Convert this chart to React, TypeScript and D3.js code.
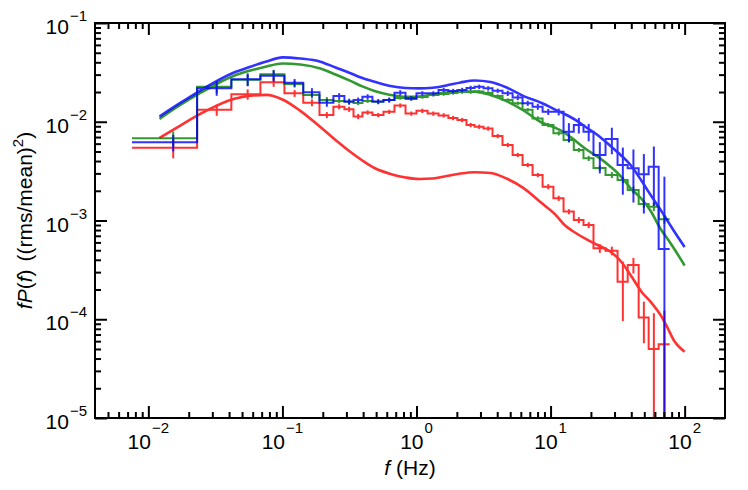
import { useEffect, useRef } from 'react';
import * as d3 from 'd3';

const W = 748;
const H = 490;

// Rebinned spectra share one set of bin edges (Hz)
const binEdges = [0.00755, 0.0231, 0.0416, 0.0685, 0.1035, 0.143, 0.189, 0.240, 0.290, 0.339, 0.395, 0.469, 0.567, 0.685, 0.828, 1.00, 1.21, 1.46, 1.73, 2.02, 2.36, 2.71, 3.16, 3.69, 4.38, 5.21, 6.18, 7.34, 8.72, 10.5, 12.5, 14.9, 17.6, 20.9, 25.7, 31.6, 37.6, 45.4, 53.9, 64.0, 77.3];

const blueHist = [0.00619, 0.0218, 0.0269, 0.0293, 0.0249, 0.0199, 0.0156, 0.0182, 0.0160, 0.0166, 0.0179, 0.0160, 0.0166, 0.0197, 0.0173, 0.0194, 0.0194, 0.0210, 0.0205, 0.0210, 0.0220, 0.0226, 0.0218, 0.0206, 0.0194, 0.0176, 0.0154, 0.0142, 0.0126, 0.0126, 0.00793, 0.00927, 0.00793, 0.00461, 0.00669, 0.00365, 0.00338, 0.00294, 0.00351, 0.000515];
// relative 1-sigma errors
const blueErr = [0.19, 0.16, 0.15, 0.13, 0.09, 0.1, 0.09, 0.07, 0.07, 0.06, 0.06, 0.06, 0.06, 0.06, 0.05, 0.05, 0.05, 0.05, 0.05, 0.05, 0.05, 0.05, 0.05, 0.05, 0.06, 0.06, 0.06, 0.07, 0.07, 0.08, 0.22, 0.18, 0.2, 0.35, 0.3, 0.5, 0.55, 0.6, 0.6, 4.4];

const greenHist = [0.00680, 0.0226, 0.0266, 0.0302, 0.0241, 0.0187, 0.0166, 0.0162, 0.0159, 0.0155, 0.0162, 0.0159, 0.0166, 0.0174, 0.0170, 0.0178, 0.0187, 0.0191, 0.0196, 0.0200, 0.0200, 0.0202, 0.0196, 0.0182, 0.0166, 0.0154, 0.0132, 0.0108, 0.00927, 0.00764, 0.00653, 0.00517, 0.00426, 0.00340, 0.00289, 0.00257, 0.00204, 0.00147, 0.00138, 0.00103];
const greenErr = [0.17, 0.14, 0.13, 0.11, 0.08, 0.08, 0.07, 0.05, 0.05, 0.05, 0.04, 0.04, 0.04, 0.04, 0.04, 0.04, 0.04, 0.04, 0.04, 0.04, 0.04, 0.04, 0.04, 0.04, 0.04, 0.04, 0.04, 0.05, 0.05, 0.05, 0.05, 0.05, 0.06, 0.06, 0.07, 0.07, 0.08, 0.09, 0.1, 0.1];

const redHist = [0.00546, 0.0132, 0.0190, 0.0251, 0.0194, 0.0156, 0.0117, 0.0142, 0.0134, 0.0113, 0.0124, 0.0117, 0.0126, 0.0146, 0.0121, 0.0129, 0.0121, 0.0116, 0.0109, 0.0104, 0.00927, 0.00891, 0.00854, 0.00717, 0.00582, 0.00461, 0.00365, 0.00289, 0.00220, 0.00168, 0.00123, 0.00101, 0.000900, 0.000523, 0.000494, 0.000240, 0.000354, 0.000104, 0.0000500, 0.0000557];
const redErr = [0.22, 0.13, 0.12, 0.1, 0.08, 0.08, 0.07, 0.06, 0.06, 0.06, 0.05, 0.05, 0.05, 0.05, 0.05, 0.05, 0.05, 0.05, 0.05, 0.05, 0.05, 0.05, 0.05, 0.05, 0.05, 0.05, 0.05, 0.05, 0.06, 0.06, 0.06, 0.07, 0.07, 0.1, 0.1, 0.6, 0.18, 0.45, 1.3, 1.2];

// Model curves, read at these frequencies (Hz)
const modelFreq = [0.0121, 0.0173, 0.0244, 0.0431, 0.0577, 0.0760, 0.100, 0.136, 0.192, 0.249, 0.322, 0.395, 0.486, 0.640, 0.828, 1.04, 1.32, 1.67, 2.13, 2.71, 3.57, 4.78, 6.29, 8.57, 10.9, 12.5, 15.4, 18.3, 22.4, 28.0, 33.3, 39.5, 47.8, 55.8, 66.2, 74.7, 82.8, 100];
const blueModel = [0.0113, 0.0155, 0.0207, 0.0314, 0.0361, 0.0407, 0.0449, 0.0437, 0.0406, 0.0354, 0.0310, 0.0277, 0.0254, 0.0230, 0.0220, 0.0218, 0.0221, 0.0233, 0.0250, 0.0262, 0.0253, 0.0220, 0.0182, 0.0155, 0.0132, 0.0121, 0.0104, 0.00885, 0.00734, 0.00568, 0.00461, 0.00365, 0.00251, 0.00181, 0.00128, 0.000988, 0.000792, 0.000539];
const greenModel = [0.0107, 0.0148, 0.0196, 0.0291, 0.0330, 0.0363, 0.0389, 0.0380, 0.0346, 0.0301, 0.0259, 0.0228, 0.0205, 0.0187, 0.0179, 0.0180, 0.0189, 0.0198, 0.0202, 0.0202, 0.0187, 0.0160, 0.0130, 0.00983, 0.00865, 0.00787, 0.00638, 0.00530, 0.00443, 0.00351, 0.00282, 0.00212, 0.00165, 0.00125, 0.000820, 0.000650, 0.000527, 0.000350];
const redModel = [0.00685, 0.00916, 0.0120, 0.0170, 0.0184, 0.0187, 0.0168, 0.0129, 0.00885, 0.00653, 0.00494, 0.00405, 0.00340, 0.00296, 0.00273, 0.00263, 0.00266, 0.00282, 0.00299, 0.00308, 0.00303, 0.00263, 0.00213, 0.00150, 0.00114, 0.000922, 0.000747, 0.000650, 0.000565, 0.000483, 0.000389, 0.000281, 0.000189, 0.000150, 0.000110, 0.0000815, 0.0000617, 0.0000469];

const xTickExps = [-2, -1, 0, 1, 2];
const yTickExps = [-5, -4, -3, -2, -1];

const FONT = '"Liberation Sans", Arial, sans-serif';

export default function App() {
  const svgRef = useRef<SVGSVGElement>(null);

  useEffect(() => {
    if (!svgRef.current) return;
    const svg = d3.select(svgRef.current);
    svg.selectAll('*').remove();

    const left = 95, right = 725, top = 23, bottom = 418;
    const x = d3.scaleLog().domain([4e-3, 2e2]).range([left, right]);
    const y = d3.scaleLog().domain([1e-5, 1e-1]).range([bottom, top]);

    svg.append('rect').attr('width', W).attr('height', H).attr('fill', '#fff');

    svg.append('defs').append('clipPath').attr('id', 'plot-clip')
      .append('rect')
      .attr('x', left).attr('y', top)
      .attr('width', right - left).attr('height', bottom - top);

    const plot = svg.append('g').attr('clip-path', 'url(#plot-clip)');

    const series = [
      { color: '#ff0000', hist: redHist, err: redErr, model: redModel },
      { color: '#008000', hist: greenHist, err: greenErr, model: greenModel },
      { color: '#0000ff', hist: blueHist, err: blueErr, model: blueModel },
    ];

    const modelLine = d3.line<[number, number]>()
      .x(d => x(d[0]))
      .y(d => y(d[1]))
      .curve(d3.curveMonotoneX);

    const stepLine = d3.line<[number, number]>()
      .x(d => x(d[0]))
      .y(d => y(d[1]))
      .curve(d3.curveStepAfter);

    series.forEach(s => {
      const g = plot.append('g').attr('opacity', 0.8);

      g.append('path')
        .datum(modelFreq.map((f, i) => [f, s.model[i]] as [number, number]))
        .attr('fill', 'none')
        .attr('stroke', s.color)
        .attr('stroke-width', 2.6)
        .attr('d', modelLine);

      const steps = s.hist.map((v, i) => [binEdges[i], v] as [number, number]);
      steps.push([binEdges[binEdges.length - 1], s.hist[s.hist.length - 1]]);
      g.append('path')
        .datum(steps)
        .attr('fill', 'none')
        .attr('stroke', s.color)
        .attr('stroke-width', 2)
        .attr('d', stepLine);

      g.selectAll('line.err')
        .data(s.hist)
        .join('line')
        .attr('class', 'err')
        .attr('x1', (_, i) => x((binEdges[i] + binEdges[i + 1]) / 2))
        .attr('x2', (_, i) => x((binEdges[i] + binEdges[i + 1]) / 2))
        .attr('y1', (v, i) => y(v * (1 + s.err[i])))
        .attr('y2', (v, i) => {
          const lo = v * (1 - s.err[i]);
          return lo > 0 ? y(lo) : bottom + 5;
        })
        .attr('stroke', s.color)
        .attr('stroke-width', 2);
    });

    // ticks (inward, all four sides)
    const minorX: number[] = [];
    for (let e = -3; e <= 2; e++) for (let k = 2; k <= 9; k++) {
      const v = k * 10 ** e;
      if (v > 4.01e-3 && v < 1.99e2) minorX.push(v);
    }
    const minorY: number[] = [];
    for (let e = -5; e <= -2; e++) for (let k = 2; k <= 9; k++) minorY.push(k * 10 ** e);
    const majorX = xTickExps.map(e => 10 ** e);
    const majorY = yTickExps.map(e => 10 ** e);

    const axes: [any, string, number[], number][] = [
      [d3.axisBottom(x), `translate(0,${bottom})`, majorX, 12],
      [d3.axisBottom(x), `translate(0,${bottom})`, minorX, 6],
      [d3.axisTop(x), `translate(0,${top})`, majorX, 12],
      [d3.axisTop(x), `translate(0,${top})`, minorX, 6],
      [d3.axisLeft(y), `translate(${left},0)`, majorY, 12],
      [d3.axisLeft(y), `translate(${left},0)`, minorY, 6],
      [d3.axisRight(y), `translate(${right},0)`, majorY, 12],
      [d3.axisRight(y), `translate(${right},0)`, minorY, 6],
    ];
    axes.forEach(([ax, tr, vals, len]) => {
      const g = svg.append('g')
        .attr('transform', tr)
        .call(ax.tickValues(vals).tickSize(-len).tickFormat(() => ''));
      g.select('.domain').remove();
      g.selectAll('line').attr('stroke', '#000').attr('stroke-width', 2);
    });

    svg.append('rect')
      .attr('x', left).attr('y', top)
      .attr('width', right - left).attr('height', bottom - top)
      .attr('fill', 'none').attr('stroke', '#000').attr('stroke-width', 2);

    const expText = (e: number) => (e < 0 ? `\u2212${-e}` : `${e}`);

    xTickExps.forEach(e => {
      const t = svg.append('text')
        .attr('x', x(10 ** e)).attr('y', 449)
        .attr('text-anchor', 'middle')
        .attr('font-family', FONT).attr('font-size', 21)
        .text('10');
      t.append('tspan').attr('dx', 1).attr('dy', -16).attr('font-size', 15).text(expText(e));
    });

    yTickExps.forEach(e => {
      const t = svg.append('text')
        .attr('x', 87).attr('y', y(10 ** e) + 11)
        .attr('text-anchor', 'end')
        .attr('font-family', FONT).attr('font-size', 21)
        .text('10');
      t.append('tspan').attr('dx', 1).attr('dy', -13).attr('font-size', 15).text(expText(e));
    });

    // axis titles
    const xt = svg.append('text')
      .attr('x', (left + right) / 2).attr('y', 475)
      .attr('text-anchor', 'middle')
      .attr('font-family', FONT).attr('font-size', 21);
    xt.append('tspan').attr('font-style', 'italic').text('f');
    xt.append('tspan').text(' (Hz)');

    const yt = svg.append('text')
      .attr('transform', 'rotate(-90)')
      .attr('x', -(top + bottom) / 2).attr('y', 32)
      .attr('text-anchor', 'middle')
      .attr('font-family', FONT).attr('font-size', 21);
    yt.append('tspan').attr('font-style', 'italic').text('fP');
    yt.append('tspan').text('(');
    yt.append('tspan').attr('font-style', 'italic').text('f');
    yt.append('tspan').text(')');
    yt.append('tspan').attr('dx', 8).text('((rms/mean)');
    yt.append('tspan').attr('dy', -9).attr('font-size', 15).text('2');
    yt.append('tspan').attr('dy', 9).text(')');
  }, []);

  return (
    <svg
      ref={svgRef}
      width={W}
      height={H}
      style={{ position: 'absolute', left: 0, top: 0, display: 'block' }}
    />
  );
}
